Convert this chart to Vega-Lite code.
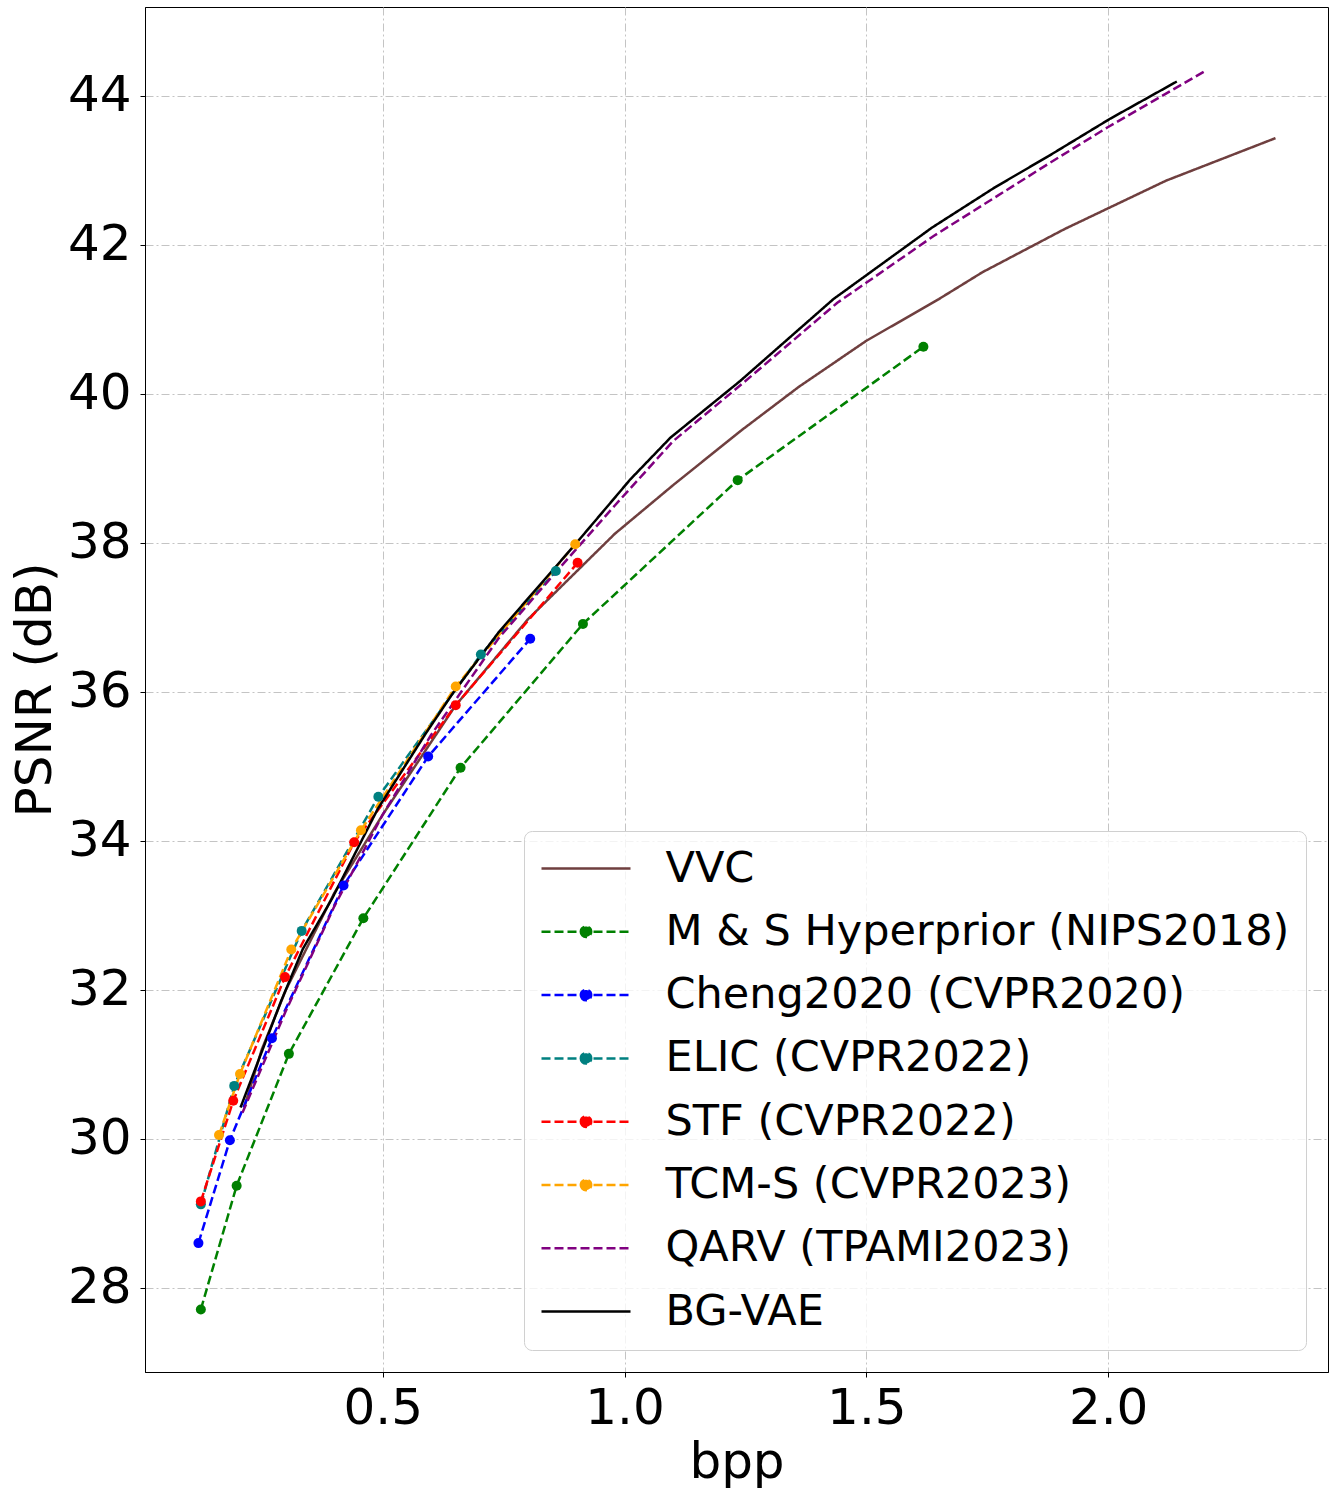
{
  "$schema": "https://vega.github.io/schema/vega-lite/v6.json",
  "width": 1183,
  "height": 1365,
  "autosize": {"type": "none"},
  "padding": {"left": 145, "top": 7, "right": 7, "bottom": 120},
  "background": "white",
  "config": {
    "view": {"stroke": "black", "strokeWidth": 1},
    "font": "DejaVu Sans",
    "axis": {
      "labelFont": "DejaVu Sans", "titleFont": "DejaVu Sans",
      "labelFontSize": 50, "titleFontSize": 50, "titleFontWeight": "normal",
      "labelColor": "black", "titleColor": "black",
      "tickColor": "black", "domainColor": "black", "tickSize": 5, "tickWidth": 1,
      "gridColor": "#c4c4c4", "gridDash": [8, 3, 2, 3], "gridWidth": 1
    },
    "legend": {
      "orient": "bottom-right", "offset": 22, "padding": 16,
      "fillColor": "rgba(255,255,255,0.8)", "strokeColor": "#d0d0d0", "cornerRadius": 8,
      "labelFont": "DejaVu Sans", "labelFontSize": 43, "labelColor": "black", "labelLimit": 0,
      "symbolSize": 1600, "symbolStrokeWidth": 2.5, "symbolOffset": 24.5,
      "rowPadding": 19.3, "labelOffset": 58
    }
  },
  "data": {
    "values": [
      {"m": "VVC", "x": 0.215, "y": 30.45},
      {"m": "VVC", "x": 0.25, "y": 31.2},
      {"m": "VVC", "x": 0.30, "y": 32.0},
      {"m": "VVC", "x": 0.40, "y": 33.3},
      {"m": "VVC", "x": 0.50, "y": 34.35},
      {"m": "VVC", "x": 0.65, "y": 35.81},
      {"m": "VVC", "x": 0.80, "y": 36.97},
      {"m": "VVC", "x": 0.98, "y": 38.12},
      {"m": "VVC", "x": 1.10, "y": 38.77},
      {"m": "VVC", "x": 1.24, "y": 39.5},
      {"m": "VVC", "x": 1.36, "y": 40.09},
      {"m": "VVC", "x": 1.50, "y": 40.71},
      {"m": "VVC", "x": 1.65, "y": 41.27},
      {"m": "VVC", "x": 1.74, "y": 41.63},
      {"m": "VVC", "x": 1.91, "y": 42.21},
      {"m": "VVC", "x": 2.12, "y": 42.86},
      {"m": "VVC", "x": 2.346, "y": 43.43},
      {"m": "M & S Hyperprior (NIPS2018)", "x": 0.124, "y": 27.71},
      {"m": "M & S Hyperprior (NIPS2018)", "x": 0.198, "y": 29.37},
      {"m": "M & S Hyperprior (NIPS2018)", "x": 0.306, "y": 31.14},
      {"m": "M & S Hyperprior (NIPS2018)", "x": 0.460, "y": 32.96},
      {"m": "M & S Hyperprior (NIPS2018)", "x": 0.661, "y": 34.98},
      {"m": "M & S Hyperprior (NIPS2018)", "x": 0.914, "y": 36.91},
      {"m": "M & S Hyperprior (NIPS2018)", "x": 1.234, "y": 38.84},
      {"m": "M & S Hyperprior (NIPS2018)", "x": 1.618, "y": 40.63},
      {"m": "Cheng2020 (CVPR2020)", "x": 0.119, "y": 28.60},
      {"m": "Cheng2020 (CVPR2020)", "x": 0.184, "y": 29.98},
      {"m": "Cheng2020 (CVPR2020)", "x": 0.271, "y": 31.35},
      {"m": "Cheng2020 (CVPR2020)", "x": 0.419, "y": 33.40},
      {"m": "Cheng2020 (CVPR2020)", "x": 0.594, "y": 35.13},
      {"m": "Cheng2020 (CVPR2020)", "x": 0.805, "y": 36.71},
      {"m": "ELIC (CVPR2022)", "x": 0.124, "y": 29.12},
      {"m": "ELIC (CVPR2022)", "x": 0.193, "y": 30.71},
      {"m": "ELIC (CVPR2022)", "x": 0.3325, "y": 32.79},
      {"m": "ELIC (CVPR2022)", "x": 0.491, "y": 34.59},
      {"m": "ELIC (CVPR2022)", "x": 0.703, "y": 36.50},
      {"m": "ELIC (CVPR2022)", "x": 0.858, "y": 37.62},
      {"m": "STF (CVPR2022)", "x": 0.124, "y": 29.16},
      {"m": "STF (CVPR2022)", "x": 0.191, "y": 30.51},
      {"m": "STF (CVPR2022)", "x": 0.298, "y": 32.17},
      {"m": "STF (CVPR2022)", "x": 0.441, "y": 33.98},
      {"m": "STF (CVPR2022)", "x": 0.651, "y": 35.82},
      {"m": "STF (CVPR2022)", "x": 0.903, "y": 37.73},
      {"m": "TCM-S (CVPR2023)", "x": 0.1615, "y": 30.05},
      {"m": "TCM-S (CVPR2023)", "x": 0.205, "y": 30.87},
      {"m": "TCM-S (CVPR2023)", "x": 0.311, "y": 32.54},
      {"m": "TCM-S (CVPR2023)", "x": 0.455, "y": 34.14},
      {"m": "TCM-S (CVPR2023)", "x": 0.651, "y": 36.07},
      {"m": "TCM-S (CVPR2023)", "x": 0.898, "y": 37.98},
      {"m": "QARV (TPAMI2023)", "x": 0.21, "y": 30.35},
      {"m": "QARV (TPAMI2023)", "x": 0.30, "y": 31.72},
      {"m": "QARV (TPAMI2023)", "x": 0.40, "y": 33.12},
      {"m": "QARV (TPAMI2023)", "x": 0.50, "y": 34.35},
      {"m": "QARV (TPAMI2023)", "x": 0.60, "y": 35.42},
      {"m": "QARV (TPAMI2023)", "x": 0.74, "y": 36.72},
      {"m": "QARV (TPAMI2023)", "x": 0.86, "y": 37.62},
      {"m": "QARV (TPAMI2023)", "x": 0.98, "y": 38.50},
      {"m": "QARV (TPAMI2023)", "x": 1.10, "y": 39.36},
      {"m": "QARV (TPAMI2023)", "x": 1.25, "y": 40.17},
      {"m": "QARV (TPAMI2023)", "x": 1.44, "y": 41.22},
      {"m": "QARV (TPAMI2023)", "x": 1.64, "y": 42.12},
      {"m": "QARV (TPAMI2023)", "x": 1.88, "y": 43.10},
      {"m": "QARV (TPAMI2023)", "x": 2.00, "y": 43.58},
      {"m": "QARV (TPAMI2023)", "x": 2.203, "y": 44.34},
      {"m": "BG-VAE", "x": 0.206, "y": 30.42},
      {"m": "BG-VAE", "x": 0.29, "y": 31.85},
      {"m": "BG-VAE", "x": 0.335, "y": 32.55},
      {"m": "BG-VAE", "x": 0.395, "y": 33.22},
      {"m": "BG-VAE", "x": 0.49, "y": 34.43},
      {"m": "BG-VAE", "x": 0.59, "y": 35.45},
      {"m": "BG-VAE", "x": 0.645, "y": 35.98},
      {"m": "BG-VAE", "x": 0.74, "y": 36.8},
      {"m": "BG-VAE", "x": 0.901, "y": 38.0},
      {"m": "BG-VAE", "x": 1.012, "y": 38.85},
      {"m": "BG-VAE", "x": 1.095, "y": 39.41},
      {"m": "BG-VAE", "x": 1.239, "y": 40.17},
      {"m": "BG-VAE", "x": 1.432, "y": 41.27},
      {"m": "BG-VAE", "x": 1.636, "y": 42.23},
      {"m": "BG-VAE", "x": 1.766, "y": 42.77},
      {"m": "BG-VAE", "x": 1.877, "y": 43.19},
      {"m": "BG-VAE", "x": 2.004, "y": 43.69},
      {"m": "BG-VAE", "x": 2.142, "y": 44.19}
    ]
  },
  "encoding": {
    "x": {
      "field": "x", "type": "quantitative",
      "scale": {"domain": [0.0085, 2.4546], "nice": false, "zero": false},
      "axis": {"title": "bpp", "values": [0.5, 1.0, 1.5, 2.0], "format": ".1f", "labelPadding": 6, "titlePadding": 4}
    },
    "y": {
      "field": "y", "type": "quantitative",
      "scale": {"domain": [26.87, 45.19], "nice": false, "zero": false},
      "axis": {"title": "PSNR (dB)", "values": [28, 30, 32, 34, 36, 38, 40, 42, 44], "labelPadding": 9, "titlePadding": 7}
    }
  },
  "layer": [
    {
      "mark": {"type": "line", "strokeWidth": 2.5},
      "encoding": {
        "color": {
          "field": "m", "type": "nominal",
          "scale": {
            "domain": ["VVC", "M & S Hyperprior (NIPS2018)", "Cheng2020 (CVPR2020)", "ELIC (CVPR2022)", "STF (CVPR2022)", "TCM-S (CVPR2023)", "QARV (TPAMI2023)", "BG-VAE"],
            "range": ["#6f3f3f", "#008000", "#0000ff", "#008080", "#ff0000", "#ffa500", "#800080", "#000000"]
          },
          "legend": {
            "title": null,
            "encode": {
              "symbols": {
                "update": {
                  "shape": {"signal": "indexof(['VVC','QARV (TPAMI2023)','BG-VAE'], datum.value) >= 0 ? 'M-2.225,0H2.225' : 'M-2.225,0H2.225M-0.26,0A0.26,0.26 0 1 0 0.26,0A0.26,0.26 0 1 0 -0.26,0Z'"},
                  "fill": {"scale": "color", "field": "value"},
                  "stroke": {"scale": "color", "field": "value"},
                  "opacity": {"value": 1},
                  "fillOpacity": {"value": 1},
                  "strokeOpacity": {"value": 1}
                }
              }
            }
          }
        },
        "strokeDash": {
          "field": "m", "type": "nominal",
          "scale": {
            "domain": ["VVC", "M & S Hyperprior (NIPS2018)", "Cheng2020 (CVPR2020)", "ELIC (CVPR2022)", "STF (CVPR2022)", "TCM-S (CVPR2023)", "QARV (TPAMI2023)", "BG-VAE"],
            "range": [[1, 0], [9, 4], [9, 4], [9, 4], [9, 4], [9, 4], [9, 4], [1, 0]]
          },
          "legend": {"title": null}
        }
      }
    },
    {
      "transform": [{"filter": {"field": "m", "oneOf": ["M & S Hyperprior (NIPS2018)", "Cheng2020 (CVPR2020)", "ELIC (CVPR2022)", "STF (CVPR2022)", "TCM-S (CVPR2023)"]}}],
      "mark": {"type": "circle", "size": 100, "opacity": 1},
      "encoding": {
        "color": {"field": "m", "type": "nominal", "legend": null}
      }
    }
  ]
}
